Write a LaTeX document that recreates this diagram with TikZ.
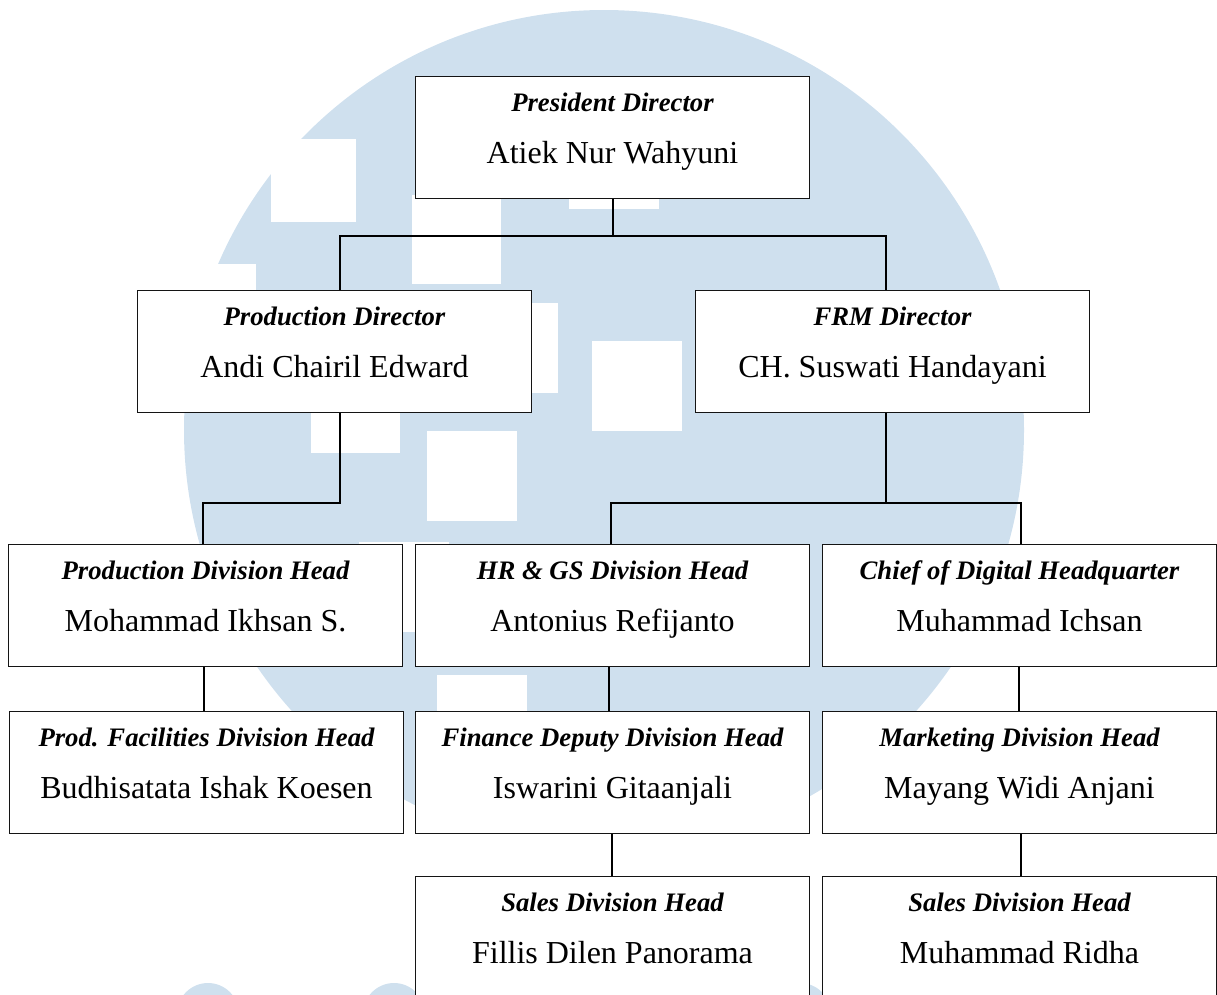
\documentclass[tikz,border=0pt]{standalone}
\usepackage{fontspec}
\setmainfont{Liberation Serif}
\definecolor{wm}{RGB}{207,224,238}
\definecolor{ink}{RGB}{20,20,20}
\newcommand\titlef{\fontsize{26.7pt}{30pt}\selectfont\bfseries\itshape}
\newcommand\namef{\fontsize{32pt}{36pt}\selectfont}
\newcommand\orgbox[5]{%
  \node[orgnode] (#1) at (#2,#3) {\vbox to 122pt{\offinterlineskip\hsize=394pt
    \vskip35pt\hbox to394pt{\hss\smash{\titlef #4}\hss}%
    \vskip52pt\hbox to394pt{\hss\smash{\namef #5}\hss}\vss}};}
\begin{document}
\begin{tikzpicture}[x=1pt,y=-1pt,
  orgnode/.style={draw=ink, line width=1pt, fill=white, inner sep=0pt, anchor=north west},
  conn/.style={draw=black, line width=2.4pt},
  hole/.style={fill=white}]
\useasboundingbox (0,0) rectangle (1217,994);
\clip (0,0) rectangle (1217,994);
% watermark
\begin{scope}
\clip (0,0) rectangle (1217,833);
\fill[wm] (604,430) circle (420pt);
\end{scope}
\fill[wm] (208,1014) circle (31pt);
\fill[wm] (394,1014) circle (31pt);
\fill[wm] (800,1014) circle (31pt);
\fill[hole] (271,139) rectangle (356,222);
\fill[hole] (166,264) rectangle (256,352);
\fill[hole] (412,195) rectangle (501,284);
\fill[hole] (569,119) rectangle (659,209);
\fill[hole] (468,303) rectangle (558,393);
\fill[hole] (592,341) rectangle (682,431);
\fill[hole] (311,363) rectangle (400,453);
\fill[hole] (427,431) rectangle (517,521);
\fill[hole] (359,542) rectangle (449,632);
\fill[hole] (437,675) rectangle (527,765);
% boxes
\orgbox{pres}{415}{76}{President Director}{Atiek Nur Wahyuni}
\orgbox{pd}{137}{290}{Production Director}{Andi Chairil Edward}
\orgbox{fd}{695}{290}{FRM Director}{CH. Suswati Handayani}
\orgbox{pdh}{8}{544}{Production Division Head}{Mohammad Ikhsan S.}
\orgbox{hr}{415}{544}{HR \& GS Division Head}{Antonius Refijanto}
\orgbox{cd}{822}{544}{Chief of Digital Headquarter}{Muhammad Ichsan}
\orgbox{pf}{9}{711}{Prod. Facilities Division Head}{Budhisatata Ishak Koesen}
\orgbox{fin}{415}{711}{Finance Deputy Division Head}{Iswarini Gitaanjali}
\orgbox{mk}{822}{711}{Marketing Division Head}{Mayang Widi Anjani}
\orgbox{s1}{415}{876}{Sales Division Head}{Fillis Dilen Panorama}
\orgbox{s2}{822}{876}{Sales Division Head}{Muhammad Ridha}
% junctions
\coordinate (j0) at (613,236);
\coordinate (jl) at (340,236);
\coordinate (jr) at (886,236);
\coordinate (j1) at (340,503);
\coordinate (j1b) at (203,503);
\coordinate (j2) at (886,503);
\coordinate (j2l) at (611,503);
\coordinate (j2r) at (1021,503);
\coordinate (c1) at (204,0);
\coordinate (c2) at (609,0);
\coordinate (c3) at (1019,0);
\coordinate (c4) at (612,0);
\coordinate (c5) at (1021,0);
% connectors
\draw[conn] (pres.south -| j0) -- (j0);
\draw[conn] (pd.north -| jl) -- (jl) -- (jr) -- (fd.north -| jr);
\draw[conn] (pd.south -| j1) -- (j1) -- (j1b) -- (pdh.north -| j1b);
\draw[conn] (fd.south -| j2) -- (j2);
\draw[conn] (hr.north -| j2l) -- (j2l) -- (j2r) -- (cd.north -| j2r);
\draw[conn] (pdh.south -| c1) -- (pf.north -| c1);
\draw[conn] (hr.south -| c2) -- (fin.north -| c2);
\draw[conn] (cd.south -| c3) -- (mk.north -| c3);
\draw[conn] (fin.south -| c4) -- (s1.north -| c4);
\draw[conn] (mk.south -| c5) -- (s2.north -| c5);
\end{tikzpicture}
\end{document}
